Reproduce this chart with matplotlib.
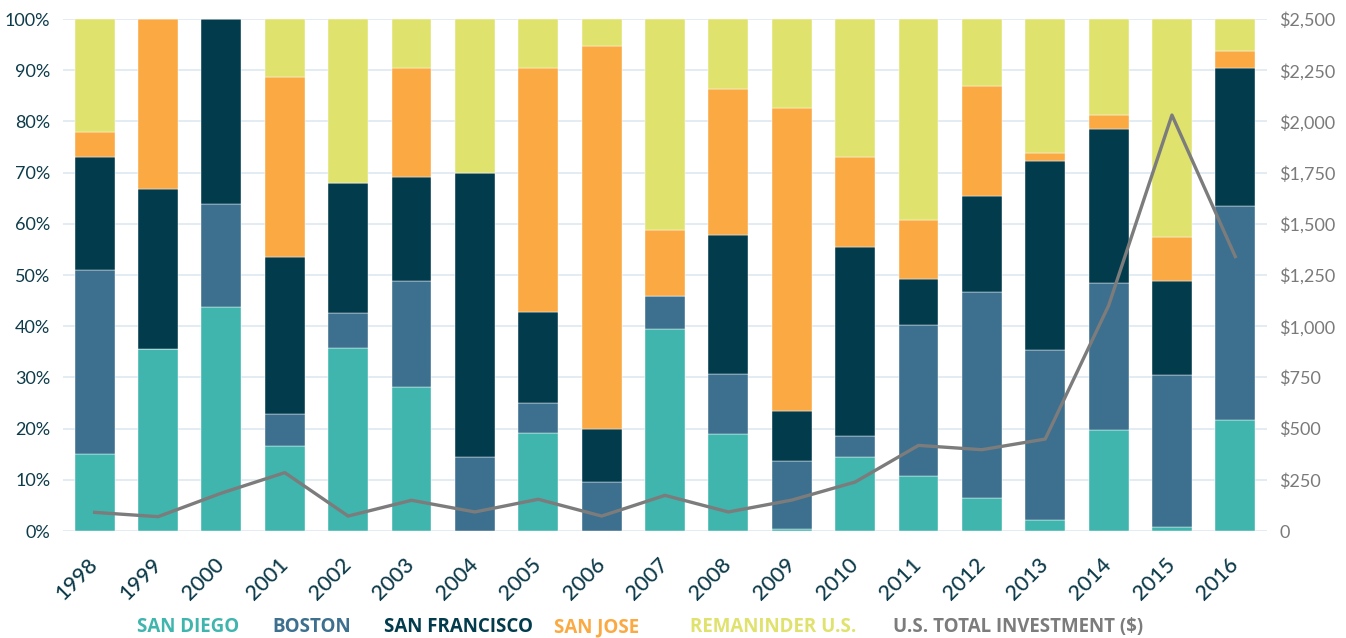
import numpy as np
import matplotlib
matplotlib.use('Agg')
import matplotlib.pyplot as plt

# data (shares in %, investment in $M)
years = [str(y) for y in range(1998, 2017)]
san_diego = [15.0, 35.5, 43.8, 16.7, 35.8, 28.1, 0.0, 19.1, 0.0, 39.5, 18.9, 0.3, 14.5, 10.7, 6.5, 2.1, 19.8, 0.8, 21.7]
boston = [36.0, 0.0, 20.1, 6.2, 6.8, 20.7, 14.5, 5.9, 9.6, 6.4, 11.8, 13.4, 4.1, 29.5, 40.2, 33.2, 28.6, 29.7, 41.8]
san_francisco = [22.0, 31.3, 36.1, 30.6, 25.4, 20.4, 55.5, 17.8, 10.4, 0.0, 27.2, 9.8, 36.9, 9.0, 18.8, 37.0, 30.1, 18.4, 26.9]
san_jose = [5.0, 33.2, 0.0, 35.2, 0.0, 21.2, 0.0, 47.6, 74.8, 12.8, 28.4, 59.2, 17.6, 11.5, 21.5, 1.5, 2.8, 8.6, 3.4]
remainder = [22.0, 0.0, 0.0, 11.3, 32.0, 9.6, 30.0, 9.6, 5.2, 41.3, 13.7, 17.3, 26.9, 39.3, 13.0, 26.2, 18.7, 42.5, 6.2]
total_investment = [91, 70, 185, 285, 73, 150, 93, 155, 73, 174, 93, 151, 239, 418, 397, 449, 1100, 2031, 1340]

series_names = ['SAN DIEGO', 'BOSTON', 'SAN FRANCISCO', 'SAN JOSE', 'REMANINDER U.S.']
series_colors = ['#3fb5ae', '#3d6f8e', '#013b4c', '#fba942', '#dfe26d']
line_name = 'U.S. TOTAL INVESTMENT ($)'
line_color = '#7c7c7c'

fig = plt.figure(figsize=(13.46, 6.38), dpi=100)
ax = fig.add_axes([0.0468, 0.1677, 0.8945, 0.8025])

x = np.arange(len(years))
bottom = np.zeros(len(years))
for vals, col in zip([san_diego, boston, san_francisco, san_jose, remainder], series_colors):
    ax.bar(x, vals, width=0.63, bottom=bottom, color=col, edgecolor='white', linewidth=0.3, zorder=2)
    bottom += np.array(vals)

ax.set_xlim(-0.5, 18.5)
ax.set_ylim(0, 100)
ax.set_yticks(np.arange(0, 101, 10))
ax.set_yticklabels([f'{v}%' for v in range(0, 101, 10)])
ax.yaxis.grid(True, color='#e2eaf2', linewidth=1.3, zorder=0)
ax.set_axisbelow(True)
ax.tick_params(axis='y', length=0, pad=9, labelsize=13, labelcolor='#0d3b4a')
ax.set_xticks(x)
ax.set_xticklabels(years, rotation=45, ha='right', va='center', rotation_mode='anchor',
                   fontsize=15.5, color='#0d3b4a', fontfamily='Lato', fontweight='medium')
ax.tick_params(axis='x', length=0, pad=22)
for lab in ax.get_yticklabels():
    lab.set_fontfamily('Lato')
for s in ax.spines.values():
    s.set_visible(False)

ax2 = ax.twinx()
ax2.plot(x, total_investment, color=line_color, linewidth=2.4, zorder=5)
ax2.set_ylim(0, 2500)
ax2.set_yticks(np.arange(0, 2501, 250))
ax2.set_yticklabels(['0'] + [f'${v:,}' for v in range(250, 2501, 250)])
ax2.tick_params(axis='y', length=0, pad=9, labelsize=13, labelcolor='#7a7a7a')
for lab in ax2.get_yticklabels():
    lab.set_fontfamily('Lato')
for s in ax2.spines.values():
    s.set_visible(False)

# legend as colored text
legend_x = [188, 312, 459, 597, 773, 1018]
for name, col, px in zip(series_names + [line_name], series_colors + [line_color], legend_x):
    fig.text(px / 1346, 1 - 627 / 638, name, color=col, fontsize=13.5, fontweight='bold',
             fontfamily='Open Sans', ha='center', va='center')

fig.savefig('out.png', dpi=100)
